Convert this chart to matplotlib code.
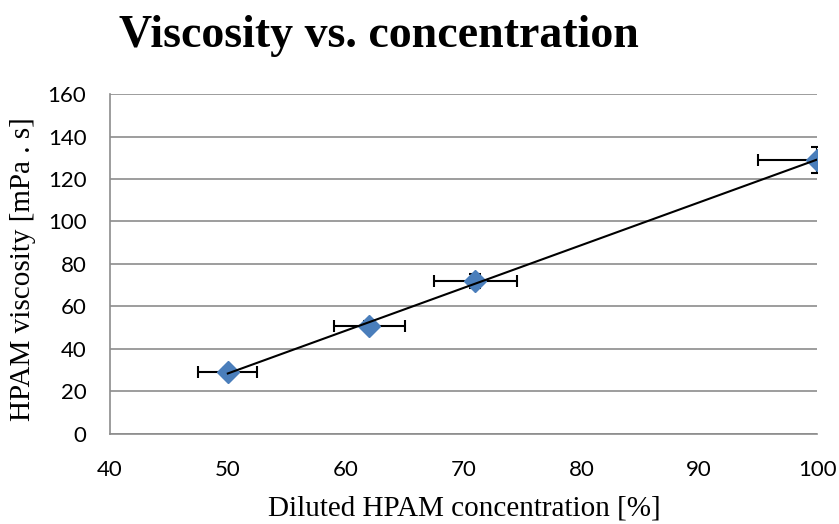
import numpy as np
import matplotlib
matplotlib.use('Agg')
import matplotlib.pyplot as plt

# Diluted concentration [%] and viscosity [mPa.s]
concentration = [50, 62, 71, 100]
viscosity = [29, 51, 72, 129]
concErr = [2.5, 3.0, 3.5, 5.0]
viscErr = [2.0, 2.0, 3.5, 6.0]

xTicks = [40, 50, 60, 70, 80, 90, 100]
yTicks = [0, 20, 40, 60, 80, 100, 120, 140, 160]

fig = plt.figure(figsize=(8.39, 5.24), dpi=100)
ax = fig.add_axes([0.1311, 0.1718, 0.8427, 0.6488])

gridGray = '#8c8c8c'

#Linear best fit through the points
bestFit = np.polyfit(concentration, viscosity, 1)
fitX = np.linspace(min(concentration), max(concentration), 100)
ax.plot(fitX, np.polyval(bestFit, fitX), c='black', lw=1.5, zorder=3)

ax.errorbar(concentration, viscosity, xerr=concErr, yerr=viscErr, fmt='D',
            color='#4a7ebb', ms=11, mec='#4a7ebb', ecolor='black',
            elinewidth=1.5, capsize=4.5, capthick=1.5, zorder=2)

ax.set_xlim(40, 100)
ax.set_ylim(0, 160)
ax.set_xticks(xTicks)
ax.set_yticks(yTicks)
ax.yaxis.grid(True, color=gridGray, lw=1.2)
ax.set_axisbelow(True)
for side in ['top', 'right']:
    ax.spines[side].set_visible(False)
for side in ['left', 'bottom']:
    ax.spines[side].set_color(gridGray)
    ax.spines[side].set_linewidth(1.2)
ax.tick_params(length=0, labelsize=16)
ax.tick_params(axis='y', pad=17)
ax.tick_params(axis='x', pad=19)
for lab in ax.get_xticklabels() + ax.get_yticklabels():
    lab.set_family('Lato')

fig.text(0.554, 0.017, 'Diluted HPAM concentration [%]', family='Liberation Serif',
         fontsize=21, ha='center', va='baseline')
fig.text(0.028, 0.487, 'HPAM viscosity [mPa . s]', family='Liberation Serif',
         fontsize=21, rotation=90, ha='center', va='center')
fig.text(0.452, 0.910, 'Viscosity vs. concentration', family='Liberation Serif',
         fontsize=33, fontweight='bold', ha='center', va='baseline')

fig.savefig('out.png', dpi=100)
